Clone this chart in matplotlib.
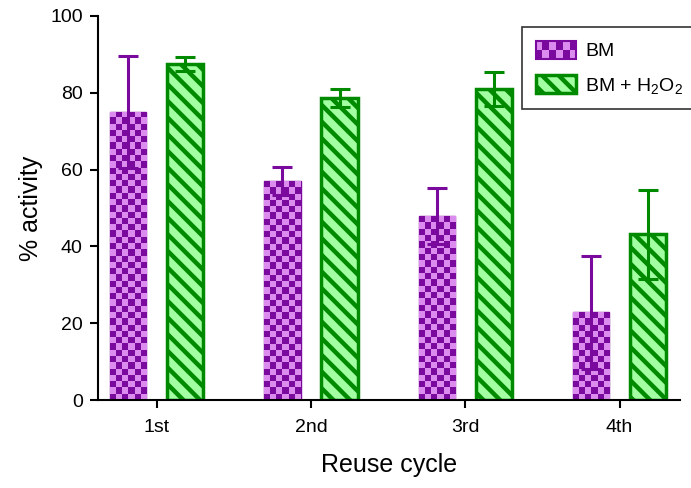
import numpy as np
import matplotlib
matplotlib.use("Agg")
import matplotlib.pyplot as plt
from matplotlib.colors import ListedColormap
from matplotlib.patches import Rectangle
from matplotlib.legend_handler import HandlerBase

plt.rcParams['font.family'] = ['Liberation Sans', 'DejaVu Sans']
plt.rcParams['mathtext.fontset'] = 'custom'
plt.rcParams['mathtext.rm'] = 'Liberation Sans'
plt.rcParams['mathtext.it'] = 'Liberation Sans:italic'
plt.rcParams['hatch.linewidth'] = 3.2

cycles = ["1st", "2nd", "3rd", "4th"]
bm_mean = [75.0, 57.0, 47.8, 22.9]
bm_err = [14.6, 3.6, 7.3, 14.7]
h2o2_mean = [87.5, 78.7, 81.0, 43.2]
h2o2_err = [1.8, 2.3, 4.4, 11.6]

PURPLE_DARK = "#7a0a9e"
PURPLE_LIGHT = "#dc8cee"
GREEN_DARK = "#008a00"
GREEN_LIGHT = "#a2ffa2"

CELL_PX = 6.3


def checker_array(nrows, ncols):
    r, c = np.indices((nrows, ncols))
    return (r + c) % 2


def fill_checker(ax, bar, cmap):
    # checkerboard image clipped to the bar outline
    x0, y0 = bar.get_x(), bar.get_y()
    w, h = bar.get_width(), bar.get_height()
    p0 = ax.transData.transform((x0, y0))
    p1 = ax.transData.transform((x0 + w, y0 + h))
    ncols = max(1, int(round((p1[0] - p0[0]) / CELL_PX)))
    nrows = max(1, int(round((p1[1] - p0[1]) / CELL_PX)))
    img = ax.imshow(checker_array(nrows, ncols), cmap=cmap, origin='lower',
                    extent=(x0, x0 + w, y0, y0 + h), aspect='auto',
                    interpolation='nearest', zorder=2)
    img.set_clip_path(bar)


class CheckerHandler(HandlerBase):
    def create_artists(self, legend, orig_handle, xdescent, ydescent,
                       width, height, fontsize, trans):
        artists = []
        nrows, ncols = 2, 6
        cw, ch = width / ncols, height / nrows
        for i in range(nrows):
            for j in range(ncols):
                color = PURPLE_DARK if (i + j) % 2 == 0 else PURPLE_LIGHT
                artists.append(Rectangle((-xdescent + j * cw, -ydescent + i * ch),
                                         cw, ch, facecolor=color, edgecolor='none',
                                         transform=trans))
        artists.append(Rectangle((-xdescent, -ydescent), width, height,
                                 facecolor='none', edgecolor=PURPLE_DARK,
                                 linewidth=1.5, transform=trans))
        return artists


fig = plt.figure(figsize=(6.91, 4.88), dpi=100)
ax = fig.add_axes([0.1418, 0.1803, 0.842, 0.787])

x = np.arange(len(cycles))
offset = 0.185
width = 0.235

ax.set_xlim(-0.38, 3.39)
ax.set_ylim(0, 100)

bm_bars = ax.bar(x - offset, bm_mean, width, facecolor=PURPLE_DARK,
                 edgecolor=PURPLE_DARK, linewidth=1, zorder=2, label="BM")
h2o2_bars = ax.bar(x + offset, h2o2_mean, width, facecolor=GREEN_LIGHT,
                   edgecolor=GREEN_DARK, hatch='\\\\', linewidth=2.5, zorder=2,
                   label="BM + H$_2$O$_2$")

checker_cmap = ListedColormap([PURPLE_DARK, PURPLE_LIGHT])
for bar in bm_bars:
    fill_checker(ax, bar, checker_cmap)

ax.errorbar(x - offset, bm_mean, yerr=bm_err, fmt='none', ecolor=PURPLE_DARK,
            elinewidth=2.2, capsize=7, capthick=2.2, zorder=4)
ax.errorbar(x + offset, h2o2_mean, yerr=h2o2_err, fmt='none', ecolor=GREEN_DARK,
            elinewidth=2.2, capsize=7, capthick=2.2, zorder=4)

ax.set_xticks(x)
ax.set_xticklabels(cycles)
ax.set_yticks([0, 20, 40, 60, 80, 100])
ax.tick_params(axis='both', direction='out', length=6, width=1.5,
               labelsize=14, pad=5)
ax.tick_params(axis='x', pad=8)
ax.spines['top'].set_visible(False)
ax.spines['right'].set_visible(False)
ax.spines['left'].set_linewidth(1.5)
ax.spines['bottom'].set_linewidth(1.5)

ax.set_xlabel("Reuse cycle", fontsize=18, labelpad=12)
ax.set_ylabel("% activity", fontsize=18, labelpad=5)

leg = ax.legend(handles=[bm_bars, h2o2_bars],
                handler_map={bm_bars: CheckerHandler()},
                loc='upper left', bbox_to_anchor=(522 / 691, 1 - 27 / 488),
                bbox_transform=fig.transFigure, fontsize=14,
                frameon=True, fancybox=False, edgecolor='black',
                handlelength=2.1, handleheight=1.05, labelspacing=0.75,
                borderpad=0.7, borderaxespad=0, handletextpad=0.45)
leg.get_frame().set_linewidth(1.2)

fig.savefig("out.png", dpi=100)
